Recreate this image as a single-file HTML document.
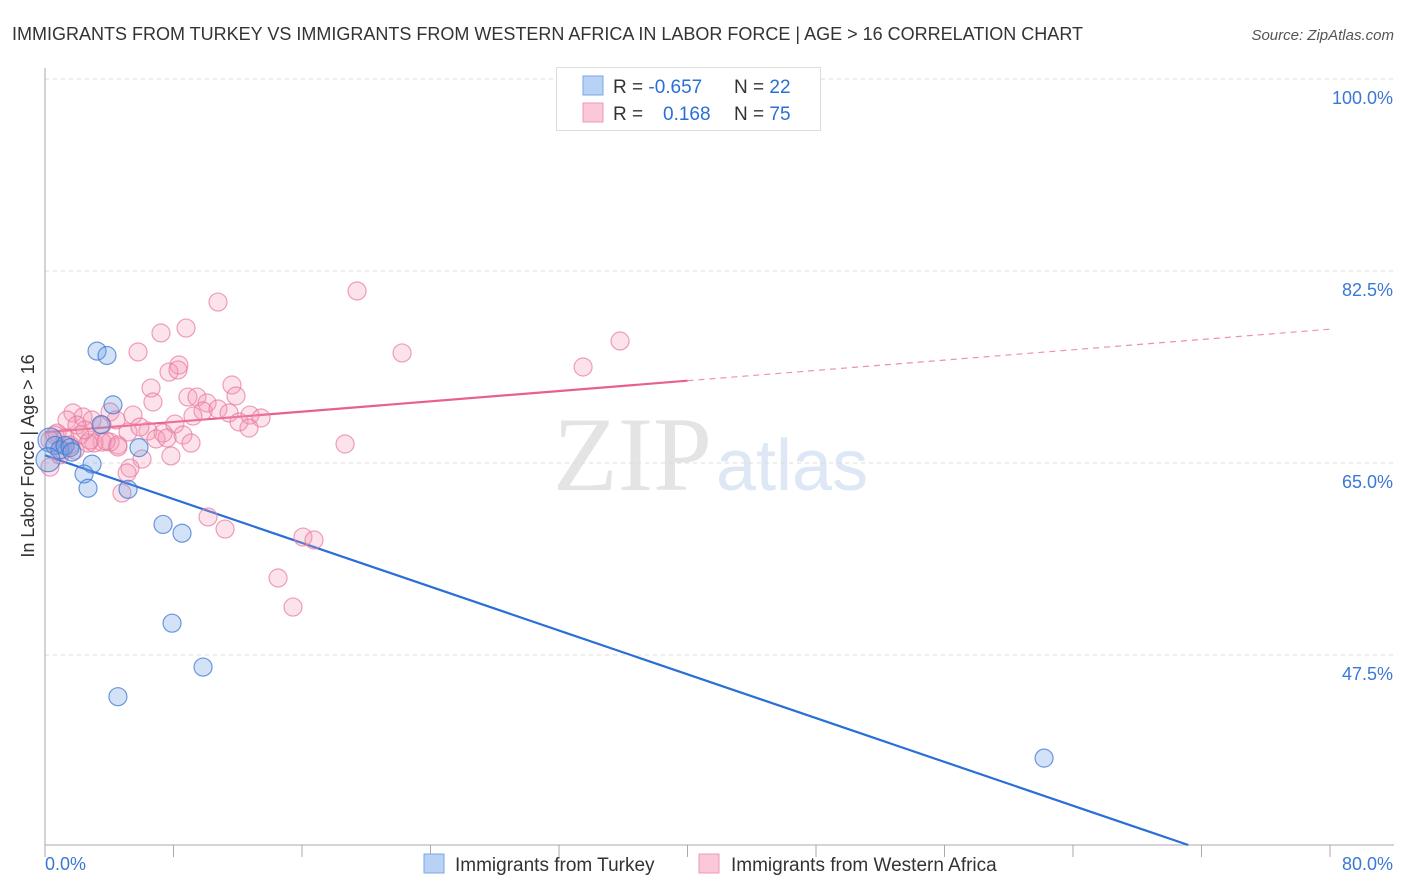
<!DOCTYPE html>
<html><head><meta charset="utf-8"><style>
body{margin:0;background:#fff;font-family:"Liberation Sans",sans-serif}
#wrap{position:relative;width:1406px;height:892px;overflow:hidden}
</style></head><body>
<div id="wrap">
<svg id="chart" width="1406" height="892" font-family="Liberation Sans, sans-serif">
<text x="12" y="40" font-size="18" fill="#333">IMMIGRANTS FROM TURKEY VS IMMIGRANTS FROM WESTERN AFRICA IN LABOR FORCE | AGE &gt; 16 CORRELATION CHART</text>
<text x="1394" y="40" font-size="15" fill="#555" font-style="italic" text-anchor="end">Source: ZipAtlas.com</text>
<g>
<text x="553" y="490" font-size="106" font-family="Liberation Serif, serif" fill="#e4e4e4">ZIP</text>
<text x="716" y="490" font-size="72" fill="#dde7f5">atlas</text>
</g>
<g id="grid"></g>
<g id="axes"></g>
<g id="lines"></g>
<g id="points"></g>
<text transform="translate(34,456) rotate(-90)" font-size="18" fill="#333" text-anchor="middle">In Labor Force | Age &gt; 16</text>
<g>
<rect x="556.5" y="67.5" width="264" height="63" fill="#fff" stroke="#ddd"/>
<rect x="583" y="76" width="20" height="19" fill="#b8d2f5" stroke="#7aa6e0"/>
<rect x="583" y="103" width="20" height="19" fill="#fbc8d8" stroke="#ee9ab5"/>
<text x="613" y="93" font-size="19" fill="#333">R = <tspan fill="#2a6fd6">-0.657</tspan></text>
<text x="734" y="93" font-size="19" fill="#333">N = <tspan fill="#2a6fd6">22</tspan></text>
<text x="613" y="120" font-size="19" fill="#333">R = </text>
<text x="663" y="120" font-size="19" fill="#2a6fd6">0.168</text>
<text x="734" y="120" font-size="19" fill="#333">N = <tspan fill="#2a6fd6">75</tspan></text>
</g>
<g>
<rect x="424" y="854" width="20" height="19" fill="#b8d2f5" stroke="#7aa6e0"/>
<text x="455" y="871" font-size="19" fill="#333">Immigrants from Turkey</text>
<rect x="699" y="854" width="20" height="19" fill="#fbc8d8" stroke="#ee9ab5"/>
<text x="731" y="871" font-size="19" fill="#333">Immigrants from Western Africa</text>
</g>
</svg>
</div>
<script>
const blueX=[3.24,3.86,4.23,3.49,5.85,2.93,2.43,2.68,5.17,7.35,8.53,7.91,9.84,4.54,62.2,0.31,0.62,0.93,1.25,1.56,1.68,0.19];
const blueY=[75.2,74.8,70.3,68.5,66.4,64.9,64.0,62.7,62.6,59.4,58.6,50.4,46.4,43.7,38.1,67.1,66.6,66.2,66.6,66.4,66.0,65.3];
const pinkX=[19.43,10.77,8.78,7.22,5.79,22.23,8.34,7.72,8.28,6.60,6.72,11.64,11.89,8.90,9.46,10.09,9.84,9.21,10.77,11.46,12.08,12.76,13.45,12.70,5.48,4.05,4.42,1.74,2.37,2.93,1.37,1.99,3.55,5.17,6.41,7.35,8.09,8.59,6.91,7.60,9.09,7.84,6.04,4.54,4.05,3.55,3.05,2.68,2.18,0.75,0.31,1.12,0.31,18.68,5.29,5.11,4.79,10.15,11.21,16.06,16.75,14.51,15.44,33.50,35.80,0.62,1.25,1.56,2.80,1.87,3.80,4.54,5.91,0.93,2.49];
const pinkY=[80.68,79.67,77.30,76.85,75.12,75.03,73.93,73.29,73.48,71.83,70.56,72.11,71.11,71.01,71.01,70.47,69.74,69.28,69.92,69.56,68.74,69.37,69.10,68.19,69.37,69.65,68.92,69.56,69.19,68.92,68.92,68.46,68.46,67.82,67.91,67.73,68.55,67.55,67.19,67.28,66.82,65.64,65.36,66.46,66.91,66.91,66.82,66.82,67.55,67.73,67.09,66.18,64.63,66.73,64.54,64.09,62.26,60.08,58.98,58.25,57.98,54.52,51.87,73.75,76.12,67.55,67.28,66.64,67.09,66.18,67.00,66.64,68.28,65.73,68.01];
const blueTrend=[65.7,-0.499];
const pinkTrend=[67.8,0.1175];
const pinkSolidEnd=40;
const yTicks=[100,82.5,65,47.5];
const yTickLabels=["100.0%","82.5%","65.0%","47.5%"];
const xTickCount=10;

const X0=45,X1=1330,XMAX=80,Y_TOP=79,V_TOP=100,PXPER=192/17.5,YB=845;
const sx=v=>X0+(v/XMAX)*(X1-X0);
const sy=v=>Y_TOP+(V_TOP-v)*PXPER;
const NS="http://www.w3.org/2000/svg";
function mk(tag,attrs,parent){const e=document.createElementNS(NS,tag);for(const k in attrs)e.setAttribute(k,attrs[k]);parent.appendChild(e);return e;}
const grid=document.getElementById('grid'),axes=document.getElementById('axes'),lines=document.getElementById('lines'),pts=document.getElementById('points');
yTicks.forEach((t,i)=>{
 const l=mk('line',{x1:X0,x2:1394,y1:sy(t),y2:sy(t),stroke:'#ddd','stroke-dasharray':'4,4'},grid);
 
 
 const tx=mk('text',{x:1393,y:sy(t)+25,'font-size':18,fill:'#3a78d4','text-anchor':'end'},axes);
 tx.textContent=yTickLabels[i];
 
 
});
const ax=mk('line',{x1:X0,x2:X0,y1:68,y2:YB,stroke:'#aaa'},axes);


const bx=mk('line',{x1:X0,x2:1394,y1:YB,y2:YB,stroke:'#aaa'},axes);


for(let i=0;i<=xTickCount;i++){
 const x=sx(i*XMAX/xTickCount);
 const t=mk('line',{x1:x,x2:x,y1:YB,y2:YB+12,stroke:'#aaa'},axes);
 
 
}
const xl0=mk('text',{x:45,y:870,'font-size':18,fill:'#3a78d4'},axes);xl0.textContent='0.0%';


const xl1=mk('text',{x:1393,y:870,'font-size':18,fill:'#3a78d4','text-anchor':'end'},axes);xl1.textContent='80.0%';



function draw(xs,ys,fill,stroke,name){
 xs.forEach((v,i)=>{
  const big=(v<0.5&&i>=xs.length-8)?12:9;
  const c=mk('circle',{cx:sx(v),cy:sy(ys[i]),r:big,fill:fill,stroke:stroke,'stroke-width':1.2},pts);
  
  
 });
}
draw(pinkX,pinkY,'rgba(244,150,180,0.28)','rgba(232,120,160,0.7)','point-western-africa');
draw(blueX,blueY,'rgba(110,160,230,0.3)','rgba(60,120,210,0.75)','point-turkey');

// blue trend: clip at bottom axis
const bEnd=Math.min(XMAX,(blueTrend[0]-(V_TOP-(YB-Y_TOP)/PXPER))/-blueTrend[1]);
const bl=mk('line',{x1:sx(0),y1:sy(blueTrend[0]),x2:sx(bEnd),y2:sy(blueTrend[0]+blueTrend[1]*bEnd),stroke:'#2a6fd6','stroke-width':2.2},lines);


const pl=mk('line',{x1:sx(0),y1:sy(pinkTrend[0]),x2:sx(pinkSolidEnd),y2:sy(pinkTrend[0]+pinkTrend[1]*pinkSolidEnd),stroke:'#e8608c','stroke-width':2.2},lines);


const pd=mk('line',{x1:sx(pinkSolidEnd),y1:sy(pinkTrend[0]+pinkTrend[1]*pinkSolidEnd),x2:sx(XMAX),y2:sy(pinkTrend[0]+pinkTrend[1]*XMAX),stroke:'#e8608c','stroke-width':1.2,'stroke-dasharray':'6,5','stroke-opacity':0.7},lines);


</script>
</body></html>
